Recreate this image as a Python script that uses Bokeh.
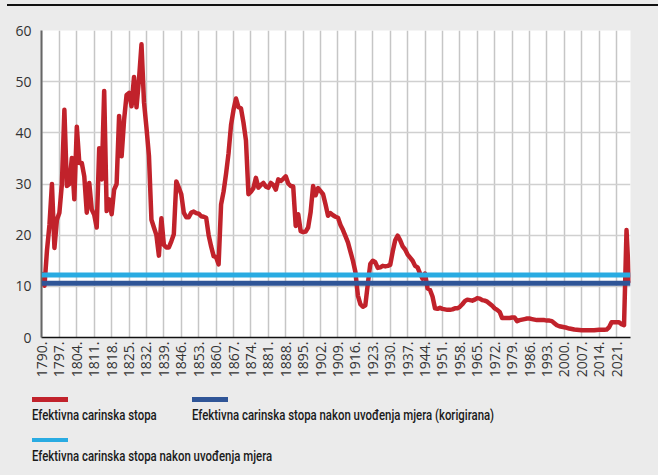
import math
from bokeh.plotting import figure
from bokeh.models import Range1d, FixedTicker, Span, ColumnDataSource, Div
from bokeh.layouts import column
from bokeh.embed import file_html
from bokeh.resources import INLINE

# ---------------- data ----------------
years = list(range(1790, 2027))
rate = [
    12.4, 10.1, 17.0, 22.0, 30.0, 17.5, 23.0, 24.4, 30.0, 44.5,   # 1790s
    29.6, 30.0, 35.1, 27.0, 41.2, 34.1, 34.1, 31.5, 24.4, 30.2,   # 1800s
    25.0, 24.0, 21.5, 37.0, 30.9, 48.2, 24.7, 27.0, 24.1, 28.9,   # 1810s
    30.0, 43.3, 35.4, 42.5, 47.4, 47.8, 45.2, 50.9, 45.0, 50.5,   # 1820s
    57.3, 46.0, 41.0, 35.5, 23.0, 21.5, 20.0, 16.0, 23.3, 18.1,   # 1830s
    17.6, 17.6, 18.8, 20.2, 30.5, 29.3, 28.0, 24.4, 23.5, 23.5,   # 1840s
    24.4, 24.6, 24.3, 24.2, 23.7, 23.6, 23.4, 20.0, 17.8, 15.9,   # 1850s
    15.7, 14.3, 26.0, 28.5, 32.0, 36.0, 41.5, 44.5, 46.7, 45.0,   # 1860s
    44.8, 42.0, 38.5, 28.0, 28.5, 29.2, 31.2, 29.3, 29.8, 30.2,   # 1870s
    29.5, 29.3, 30.2, 29.8, 28.9, 30.9, 30.6, 31.0, 31.5, 30.1,   # 1880s
    29.6, 29.5, 21.8, 24.1, 20.8, 20.6, 20.7, 21.5, 24.5, 29.6,   # 1890s
    27.8, 29.2, 28.6, 28.0, 26.0, 23.8, 24.3, 23.9, 23.6, 23.4,   # 1900s
    22.0, 21.0, 19.8, 18.6, 16.8, 15.0, 12.8, 8.2, 6.5, 6.0,      # 1910s
    6.3, 10.5, 14.4, 15.0, 14.7, 13.6, 13.7, 14.0, 13.9, 14.0,    # 1920s
    14.2, 16.8, 19.0, 19.9, 19.0, 17.8, 17.2, 16.2, 15.6, 15.0,   # 1930s
    14.0, 13.7, 12.5, 11.5, 12.5, 9.6, 9.3, 8.0, 5.7, 5.6,        # 1940s
    5.8, 5.6, 5.5, 5.4, 5.4, 5.5, 5.7, 5.7, 6.0, 6.5,             # 1950s
    7.1, 7.4, 7.3, 7.2, 7.4, 7.7, 7.6, 7.3, 7.2, 7.0,             # 1960s
    6.6, 6.2, 5.7, 5.4, 5.0, 3.8, 3.8, 3.8, 3.8, 3.9,             # 1970s
    3.9, 3.2, 3.4, 3.5, 3.6, 3.7, 3.7, 3.6, 3.5, 3.4,             # 1980s
    3.4, 3.4, 3.4, 3.3, 3.3, 3.2, 2.8, 2.4, 2.2, 2.1,             # 1990s
    2.0, 1.9, 1.75, 1.65, 1.55, 1.5, 1.45, 1.4, 1.4, 1.4,         # 2000s
    1.4, 1.4, 1.4, 1.45, 1.5, 1.5, 1.5, 1.55, 2.0, 3.0,           # 2010s
    3.0, 3.0, 3.0, 2.6, 2.4, 21.0, 11.0,                          # 2020s
]
assert len(rate) == len(years)

level_after = 12.2       # Efektivna carinska stopa nakon uvođenja mjera
level_corrected = 10.6   # ... (korigirana)

tick_labels = ["1790.", "1797.", "1804.", "1811.", "1818.", "1825.", "1832.",
               "1839.", "1846.", "1853.", "1860.", "1867.", "1874.", "1881.",
               "1888.", "1895.", "1902.", "1909.", "1916.", "1923.", "1930.",
               "1937.", "1944.", "1951.", "1958.", "1965.", "1972.", "1979.",
               "1986.", "1993.", "2000.", "2007.", "2014.", "2021."]
tick_years = [int(t.rstrip(".")) for t in tick_labels]

legend_labels = ["Efektivna carinska stopa",
                 "Efektivna carinska stopa nakon uvođenja mjera (korigirana)",
                 "Efektivna carinska stopa nakon uvođenja mjera"]

RED = "#c1222b"
DARK = "#2f5597"
LIGHT = "#29abe2"
BG = "#ebebeb"

W = 658
MAIN_H = 372       # chart strip (page y 8..380)
LEG_H = 95         # legend strip (page y 380..475)

# ---------------- top rule ----------------
rule = Div(width=W - 7, height=2, margin=(4, 0, 2, 7),
           styles={"background-color": "#111111"})

# ---------------- main chart ----------------
p = figure(width=W, height=MAIN_H,
           x_range=Range1d(1789.8, 2026.6), y_range=Range1d(0, 60),
           min_border_left=41, min_border_right=28,
           min_border_top=22, min_border_bottom=41,
           background_fill_color="white", border_fill_color=BG,
           outline_line_color=None,
           output_backend="svg", toolbar_location=None)

src = ColumnDataSource(dict(year=years, rate=rate))
p.line("year", "rate", source=src, line_color=RED, line_width=4.5,
       line_join="round", line_cap="round")

p.add_layout(Span(location=level_after, dimension="width",
                  line_color=LIGHT, line_width=5))
p.add_layout(Span(location=level_corrected, dimension="width",
                  line_color=DARK, line_width=5))

ticker = FixedTicker(ticks=tick_years)
p.xaxis.ticker = ticker
p.xgrid.ticker = ticker
p.xaxis.major_label_overrides = {y: t for y, t in zip(tick_years, tick_labels)}
p.xaxis.major_label_orientation = math.pi / 2
p.xaxis.major_label_standoff = 4
p.xaxis.axis_line_color = "#111111"
p.xaxis.axis_line_width = 1.5
p.xaxis.major_tick_line_color = None
p.xaxis.major_tick_out = 0
p.xaxis.major_tick_in = 0
p.xaxis.minor_tick_line_color = None
p.xaxis.minor_tick_out = 0
p.xaxis.major_label_text_font = "Open Sans"
p.xaxis.major_label_text_font_size = "14px"
p.xaxis.major_label_text_color = "#333333"

p.yaxis.ticker = FixedTicker(ticks=[0, 10, 20, 30, 40, 50, 60])
p.yaxis.axis_line_color = "#666666"
p.yaxis.axis_line_width = 2
p.yaxis.major_tick_line_color = None
p.yaxis.major_tick_out = 0
p.yaxis.major_tick_in = 0
p.yaxis.minor_tick_line_color = None
p.yaxis.minor_tick_out = 0
p.yaxis.major_label_standoff = 10
p.yaxis.major_label_text_font = "Open Sans"
p.yaxis.major_label_text_font_size = "14px"
p.yaxis.major_label_text_color = "#333333"

p.xgrid.grid_line_color = "#c6c6c6"
p.xgrid.grid_line_width = 1.5
p.ygrid.grid_line_color = "#d0d0d0"
p.ygrid.grid_line_width = 1.5

# ---------------- legend strip (HTML, positions in px within the strip) ----------------
legend_colors = [RED, DARK, LIGHT]
swatch_pos = [(32, 17), (192, 17), (32, 57.5)]     # left, top
text_pos = [(32, 27.5), (192, 27.5), (32, 68.5)]   # left, top

parts = []
for (sx, sy), c in zip(swatch_pos, legend_colors):
    parts.append(
        f'<div style="position:absolute;left:{sx}px;top:{sy}px;width:36px;'
        f'height:4.5px;background:{c};"></div>')
for (tx, ty), txt in zip(text_pos, legend_labels):
    parts.append(
        f'<div style="position:absolute;left:{tx}px;top:{ty}px;white-space:nowrap;'
        f'font-family:Roboto,sans-serif;font-size:15px;line-height:15px;'
        f'font-weight:500;color:#1a1a1a;transform:scaleX(0.76);'
        f'transform-origin:0 0;">{txt}</div>')

legend_html = (f'<div style="position:relative;width:{W}px;height:{LEG_H}px;'
               f'background:{BG};">' + "".join(parts) + '</div>')
legend = Div(text=legend_html, width=W, height=LEG_H, margin=(0, 0, 0, 0))

layout = column(rule, p, legend, spacing=0, styles={"background-color": BG})

open("out.html", "w").write(file_html(layout, INLINE))
